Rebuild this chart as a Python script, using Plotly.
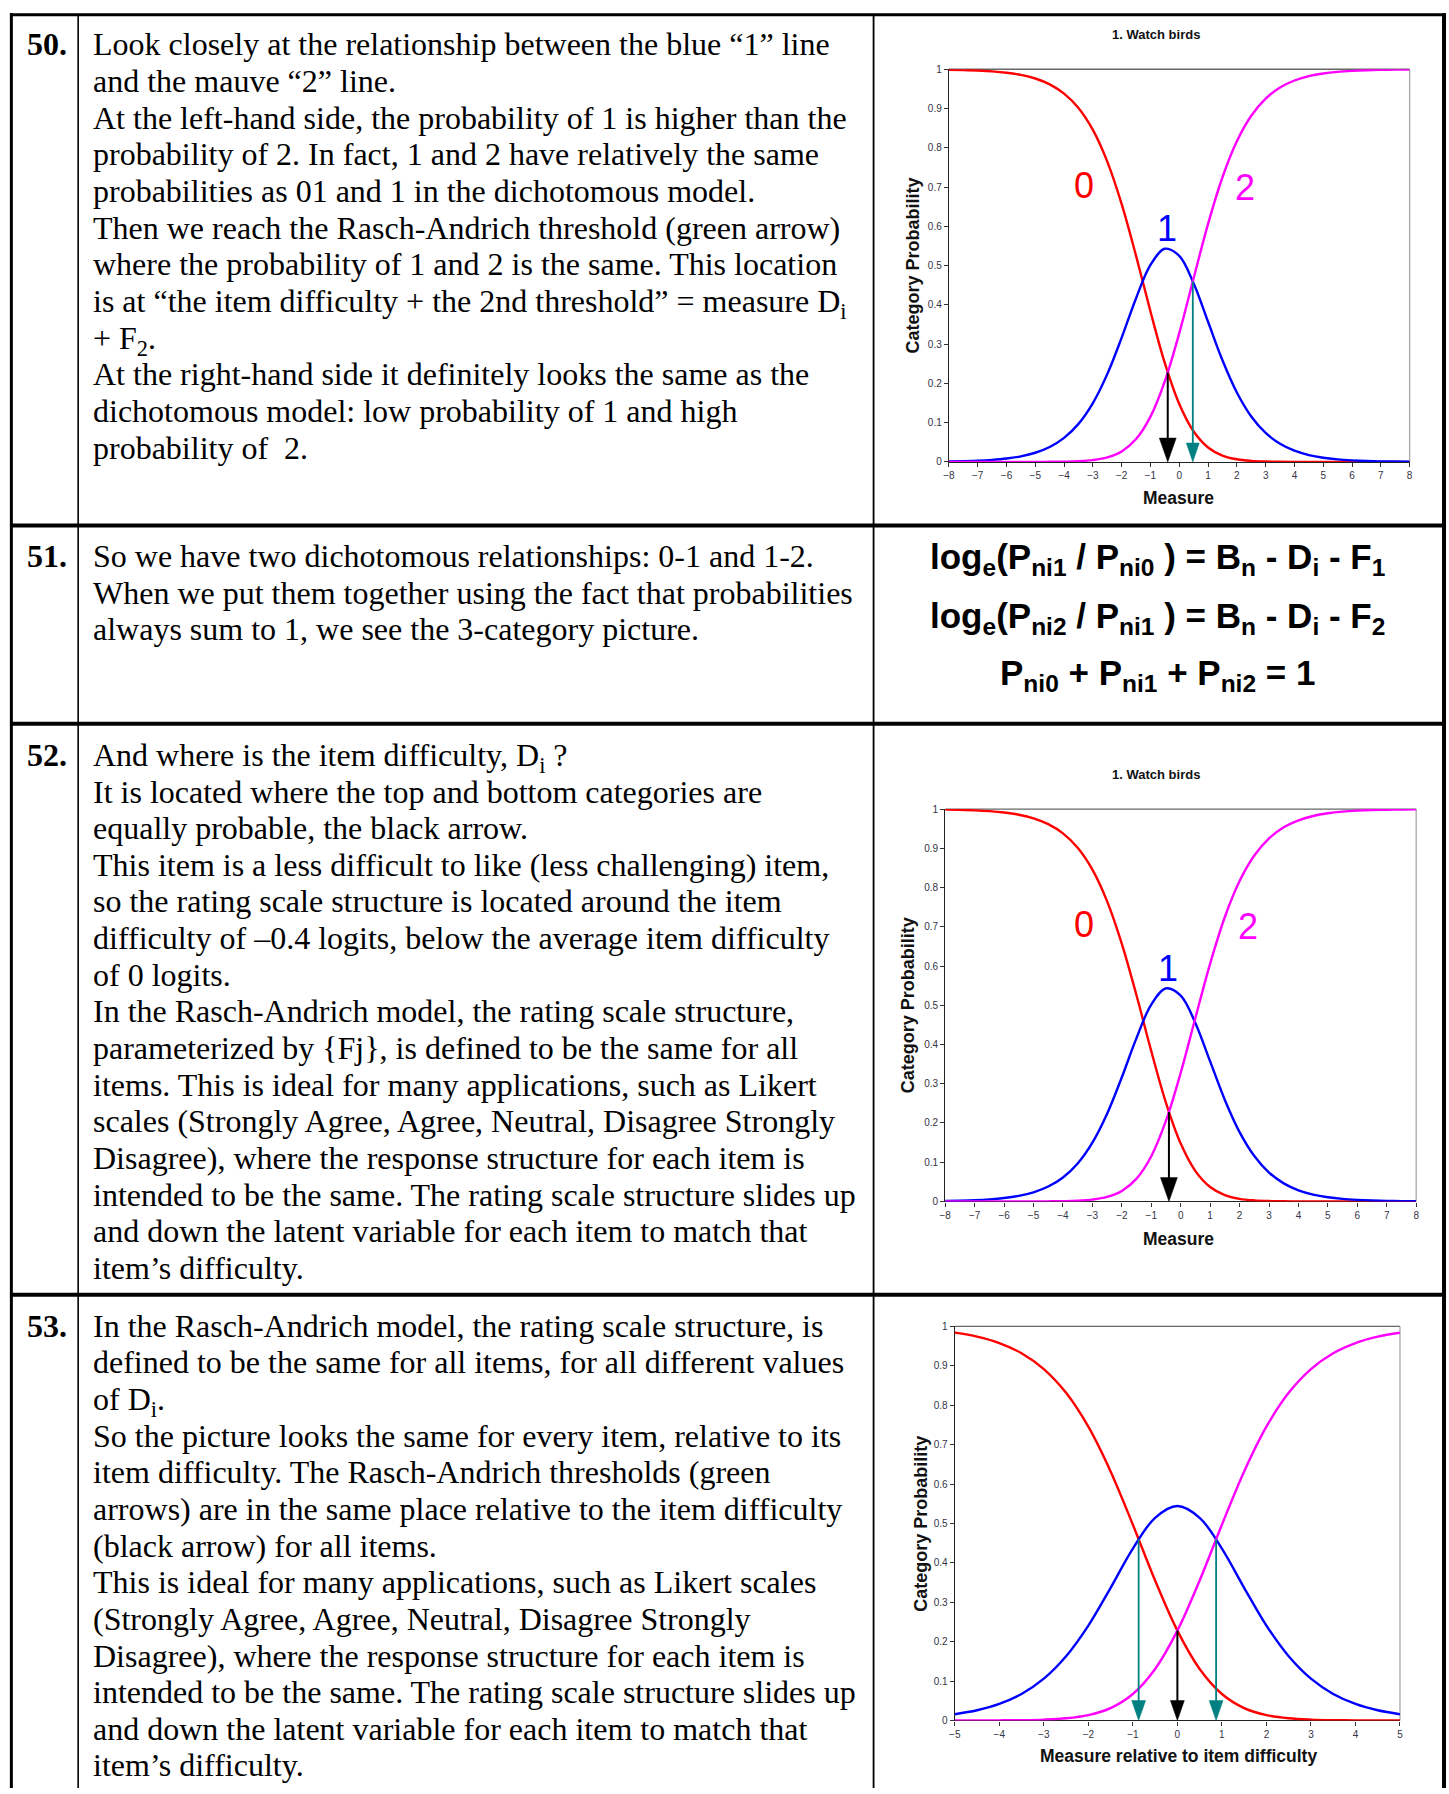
import plotly.graph_objects as go

# ---------------- data ----------------
MEASURE = [-8, -7.5, -7, -6.5, -6, -5.5, -5, -4.5, -4, -3.5, -3, -2.5, -2, -1.5, -1, -0.5,
           0, 0.5, 1, 1.5, 2, 2.5, 3, 3.5, 4, 4.5, 5, 5.5, 6, 6.5, 7, 7.5, 8]
CAT0 = [0.9988, 0.9980, 0.9968, 0.9947, 0.9912, 0.9856, 0.9765, 0.9617, 0.9381, 0.9013, 0.8455,
        0.7649, 0.6567, 0.5248, 0.3830, 0.2514, 0.1474, 0.0774, 0.0369, 0.0162, 0.0067, 0.0027,
        0.0010, 0.0004, 0.0001, 0.0001, 0.0, 0.0, 0.0, 0.0, 0.0, 0.0, 0.0]
CAT1 = [0.0012, 0.0020, 0.0032, 0.0053, 0.0087, 0.0143, 0.0234, 0.0380, 0.0612, 0.0969, 0.1499,
        0.2236, 0.3165, 0.4170, 0.5017, 0.5429, 0.5247, 0.4544, 0.3569, 0.2588, 0.1768, 0.1158,
        0.0737, 0.0461, 0.0285, 0.0175, 0.0107, 0.0065, 0.0040, 0.0024, 0.0015, 0.0009, 0.0005]
CAT2 = [0.0, 0.0, 0.0, 0.0, 0.0, 0.0, 0.0001, 0.0003, 0.0007, 0.0018, 0.0047, 0.0115, 0.0268,
        0.0582, 0.1153, 0.2058, 0.3279, 0.4682, 0.6063, 0.7250, 0.8165, 0.8816, 0.9253, 0.9536,
        0.9714, 0.9825, 0.9893, 0.9935, 0.9960, 0.9976, 0.9985, 0.9991, 0.9995]

RELATIVE = [-5, -4.5, -4, -3.5, -3, -2.5, -2, -1.5, -1, -0.5, 0, 0.5, 1, 1.5, 2, 2.5, 3, 3.5, 4, 4.5, 5]
REL0 = [0.9841, 0.9741, 0.9578, 0.9320, 0.8918, 0.8315, 0.7455, 0.6320, 0.4967, 0.3552, 0.2280,
        0.1307, 0.0672, 0.0315, 0.0137, 0.0056, 0.0022, 0.0008, 0.0003, 0.0001, 0.0]
REL1 = [0.0158, 0.0258, 0.0419, 0.0672, 0.1060, 0.1629, 0.2408, 0.3366, 0.4361, 0.5142, 0.5441,
        0.5142, 0.4361, 0.3366, 0.2408, 0.1629, 0.1060, 0.0672, 0.0419, 0.0258, 0.0158]
REL2 = [0.0, 0.0001, 0.0003, 0.0008, 0.0022, 0.0056, 0.0137, 0.0315, 0.0672, 0.1307, 0.2280,
        0.3552, 0.4967, 0.6320, 0.7455, 0.8315, 0.8918, 0.9320, 0.9578, 0.9741, 0.9841]

# arrows: (x position, value where arrow starts, kind)
ARROWS_50 = [(-0.4, 0.228, "difficulty"), (0.47, 0.46, "threshold")]
ARROWS_52 = [(-0.4, 0.228, "difficulty")]
ARROWS_53 = [(-0.87, 0.46, "threshold"), (0.0, 0.228, "difficulty"), (0.87, 0.46, "threshold")]

# curve labels: (text, x, y)
CURVE_LABELS = [("0", -3.3, 0.705), ("1", -0.42, 0.594), ("2", 2.3, 0.70)]

X_TICKS_MEASURE = [-8, -7, -6, -5, -4, -3, -2, -1, 0, 1, 2, 3, 4, 5, 6, 7, 8]
X_TICKS_RELATIVE = [-5, -4, -3, -2, -1, 0, 1, 2, 3, 4, 5]
Y_TICKS = [0, 0.1, 0.2, 0.3, 0.4, 0.5, 0.6, 0.7, 0.8, 0.9, 1]
Y_TICKTEXT = ["0", "0.1", "0.2", "0.3", "0.4", "0.5", "0.6", "0.7", "0.8", "0.9", "1"]

ROW_NUMBERS = ["50.", "51.", "52.", "53."]
ROW50 = [
    "Look closely at the relationship between the blue “1” line",
    "and the mauve “2” line.",
    "At the left-hand side, the probability of 1 is higher than the",
    "probability of 2. In fact, 1 and 2 have relatively the same",
    "probabilities as 01 and 1 in the dichotomous model.",
    "Then we reach the Rasch-Andrich threshold (green arrow)",
    "where the probability of 1 and 2 is the same. This location",
    "is at “the item difficulty + the 2nd threshold” = measure D<sub>i</sub>",
    "+ F<sub>2</sub>.",
    "At the right-hand side it definitely looks the same as the",
    "dichotomous model: low probability of 1 and high",
    "probability of  2.",
]
ROW51 = [
    "So we have two dichotomous relationships: 0-1 and 1-2.",
    "When we put them together using the fact that probabilities",
    "always sum to 1, we see the 3-category picture.",
]
ROW52 = [
    "And where is the item difficulty, D<sub>i</sub> ?",
    "It is located where the top and bottom categories are",
    "equally probable, the black arrow.",
    "This item is a less difficult to like (less challenging) item,",
    "so the rating scale structure is located around the item",
    "difficulty of –0.4 logits, below the average item difficulty",
    "of 0 logits.",
    "In the Rasch-Andrich model, the rating scale structure,",
    "parameterized by {Fj}, is defined to be the same for all",
    "items. This is ideal for many applications, such as Likert",
    "scales (Strongly Agree, Agree, Neutral, Disagree Strongly",
    "Disagree), where the response structure for each item is",
    "intended to be the same. The rating scale structure slides up",
    "and down the latent variable for each item to match that",
    "item’s difficulty.",
]
ROW53 = [
    "In the Rasch-Andrich model, the rating scale structure, is",
    "defined to be the same for all items, for all different values",
    "of D<sub>i</sub>.",
    "So the picture looks the same for every item, relative to its",
    "item difficulty. The Rasch-Andrich thresholds (green",
    "arrows) are in the same place relative to the item difficulty",
    "(black arrow) for all items.",
    "This is ideal for many applications, such as Likert scales",
    "(Strongly Agree, Agree, Neutral, Disagree Strongly",
    "Disagree), where the response structure for each item is",
    "intended to be the same. The rating scale structure slides up",
    "and down the latent variable for each item to match that",
    "item’s difficulty.",
]
FORMULAS = [
    "log<sub>e</sub>(P<sub>ni1</sub> / P<sub>ni0</sub> ) = B<sub>n</sub> - D<sub>i</sub> - F<sub>1</sub>",
    "log<sub>e</sub>(P<sub>ni2</sub> / P<sub>ni1</sub> ) = B<sub>n</sub> - D<sub>i</sub> - F<sub>2</sub>",
    "P<sub>ni0</sub> + P<sub>ni1</sub> + P<sub>ni2</sub> = 1",
]
CHART_TITLE = "1. Watch birds"
Y_TITLE = "Category Probability"
X_TITLE_MEASURE = "Measure"
X_TITLE_RELATIVE = "Measure relative to item difficulty"

# ---------------- styling / layout ----------------
W, H = 1449, 1794
SERIF = "Liberation Serif, Times New Roman, serif"
SANS = "Liberation Sans, Arial, sans-serif"
RED, BLUE, MAGENTA, TEAL = "#ff0000", "#0000ff", "#ff00ff", "#008080"
BODY_SIZE = 32
FORMULA_SIZE = 35
LINE_STEP = 36.9
SERIF_ASC = 0.891
SANS_ASC = 0.905


def px(x):
    return x / W


def py(y):
    return 1 - y / H


annotations = []
shapes = []


def add_text(txt, x, baseline, size, family, asc, bold=False, anchor="left", color="black"):
    annotations.append(dict(
        text=txt, x=px(x), y=py(baseline - asc * size), xref="paper", yref="paper",
        xanchor=anchor, yanchor="top", showarrow=False, borderpad=0, borderwidth=0,
        font=dict(family=family, size=size, color=color, weight="bold" if bold else "normal"),
    ))


# table text
ROW_BASELINES = [49.0, 564.0, 764.3, 1338.9]
for lines, base, num in zip([ROW50, ROW51, ROW52, ROW53], ROW_BASELINES, ROW_NUMBERS):
    add_text(num, 21.0, base, BODY_SIZE, SERIF, SERIF_ASC, bold=True)
    for i, ln in enumerate(lines):
        add_text(ln, 87.5, base + i * LINE_STEP, BODY_SIZE, SERIF, SERIF_ASC)

FORMULA_BASELINES = [566.0, 626.0, 683.0]
for ln, base in zip(FORMULAS, FORMULA_BASELINES):
    add_text(ln, 1159.0, base, FORMULA_SIZE, SANS, SANS_ASC, bold=True, anchor="center")


# table borders
def hline(y, x0, x1, w, color="black"):
    shapes.append(dict(type="line", xref="paper", yref="paper", x0=px(x0), x1=px(x1),
                       y0=py(y), y1=py(y), line=dict(color=color, width=w)))


def vline(x, y0, y1, w, color="black"):
    shapes.append(dict(type="line", xref="paper", yref="paper", x0=px(x), x1=px(x),
                       y0=py(y0), y1=py(y1), line=dict(color=color, width=w)))


hline(8.8, 4.0, 1449, 3.0)
for yy in [523.0, 722.7, 1297.5]:
    hline(yy, 4.0, 1449, 4.0)
vline(5.4, 7.3, H, 3.0)
vline(1447.0, 7.3, H, 4.0)
vline(72.6, 8.8, H, 1.6)
vline(873.0, 8.8, H, 1.8)

# charts
CHARTS = [
    dict(box=(948.8, 63.7, 1412.4, 459.0), x=MEASURE, ys=(CAT0, CAT1, CAT2), xr=(-8, 8),
         xt=X_TICKS_MEASURE, xtitle=X_TITLE_MEASURE, xtitle_y=495.8, title_y=29.0,
         ytitle_x=912.5, arrows=ARROWS_50, labels=True,
         head={"difficulty": (17, 24), "threshold": (13, 19)}),
    dict(box=(945.1, 808.5, 1419.0, 1203.5), x=MEASURE, ys=(CAT0, CAT1, CAT2), xr=(-8, 8),
         xt=X_TICKS_MEASURE, xtitle=X_TITLE_MEASURE, xtitle_y=1241.0, title_y=773.6,
         ytitle_x=907.7, arrows=ARROWS_52, labels=True,
         head={"difficulty": (17, 24), "threshold": (13, 19)}),
    dict(box=(954.7, 1329.3, 1402.7, 1726.0), x=RELATIVE, ys=(REL0, REL1, REL2), xr=(-5, 5),
         xt=X_TICKS_RELATIVE, xtitle=X_TITLE_RELATIVE, xtitle_y=1762.0, title_y=None,
         ytitle_x=921.0, arrows=ARROWS_53, labels=False,
         head={"difficulty": (14, 20), "threshold": (14, 20)}),
]

fig = go.Figure()
layout_axes = {}
for k, ch in enumerate(CHARTS, start=1):
    sfx = "" if k == 1 else str(k)
    xa, ya = "x" + sfx, "y" + sfx
    x0, y0, x1, y1 = ch["box"]
    for series, col in zip(ch["ys"], [RED, BLUE, MAGENTA]):
        fig.add_trace(go.Scatter(x=ch["x"], y=series, mode="lines", xaxis=xa, yaxis=ya,
                                 line=dict(color=col, width=2.4, shape="spline", smoothing=1.0),
                                 cliponaxis=False, showlegend=False, hoverinfo="skip"))
    layout_axes["xaxis" + sfx] = dict(
        domain=[px(x0), px(x1)], anchor=ya, range=list(ch["xr"]), tickvals=ch["xt"],
        ticks="outside", ticklen=4, tickwidth=1, tickcolor="#333", showline=True,
        linecolor="#222", linewidth=1.3, showgrid=False, zeroline=False, layer="below traces",
        tickfont=dict(family=SANS, size=10, color="#333344"), fixedrange=True)
    layout_axes["yaxis" + sfx] = dict(
        domain=[py(y1), py(y0)], anchor=xa, range=[0, 1], tickvals=Y_TICKS, ticktext=Y_TICKTEXT,
        ticks="outside", ticklen=4, tickwidth=1, tickcolor="#333", showline=True,
        linecolor="#222", linewidth=1.3, showgrid=False, zeroline=False, layer="below traces",
        tickfont=dict(family=SANS, size=10, color="#333344"), fixedrange=True)
    # frame: top and right edges
    shapes.append(dict(type="line", xref=xa + " domain", yref=ya + " domain", x0=0, x1=1, y0=1, y1=1,
                       line=dict(color="#666666", width=1.3), layer="below"))
    shapes.append(dict(type="line", xref=xa + " domain", yref=ya + " domain", x0=1, x1=1, y0=0, y1=1,
                       line=dict(color="#a8a8a8", width=1.3), layer="below"))
    # arrows
    xspan = ch["xr"][1] - ch["xr"][0]
    dx_px = xspan / (x1 - x0)
    dy_px = 1.0 / (y1 - y0)
    for ax_, top, kind in ch["arrows"]:
        col = "black" if kind == "difficulty" else TEAL
        hw, hh = ch["head"][kind]
        base = hh * dy_px
        shapes.append(dict(type="line", xref=xa, yref=ya, x0=ax_, x1=ax_, y0=top, y1=base * 0.5,
                           line=dict(color=col, width=2.0 if kind == "difficulty" else 1.8)))
        half = hw / 2 * dx_px
        shapes.append(dict(type="path", xref=xa, yref=ya,
                           path=f"M {ax_ - half},{base} L {ax_ + half},{base} L {ax_},0 Z",
                           fillcolor=col, line=dict(color=col, width=0.5)))
    # curve labels
    if ch["labels"]:
        for (txt, lx, ly), col in zip(CURVE_LABELS, [RED, BLUE, MAGENTA]):
            annotations.append(dict(text=txt, x=lx, y=ly, xref=xa, yref=ya, showarrow=False,
                                    xanchor="center", yanchor="middle",
                                    font=dict(family=SANS, size=36, color=col)))
    # titles
    if ch["title_y"] is not None:
        annotations.append(dict(text=CHART_TITLE, x=px(1156.7), y=py(ch["title_y"]), xref="paper",
                                yref="paper", showarrow=False, xanchor="center", yanchor="middle",
                                font=dict(family=SANS, size=13, color="#111", weight="bold")))
    annotations.append(dict(text=ch["xtitle"], x=px(1179.5), y=py(ch["xtitle_y"]), xref="paper",
                            yref="paper", showarrow=False, xanchor="center", yanchor="middle",
                            font=dict(family=SANS, size=17.5, color="#111", weight="bold")))
    annotations.append(dict(text=Y_TITLE, x=px(ch["ytitle_x"]), y=py((y0 + y1) / 2), xref="paper",
                            yref="paper", showarrow=False, xanchor="center", yanchor="middle",
                            textangle=-90,
                            font=dict(family=SANS, size=18, color="#111", weight="bold")))

fig.update_layout(
    width=W, height=H, autosize=False, margin=dict(l=0, r=0, t=0, b=0, pad=0),
    paper_bgcolor="white", plot_bgcolor="white", showlegend=False,
    annotations=annotations, shapes=shapes, **layout_axes,
)
fig.write_html("out.html", config={"displayModeBar": False},
               post_script="document.body.style.margin='0';document.body.style.padding='0';")
